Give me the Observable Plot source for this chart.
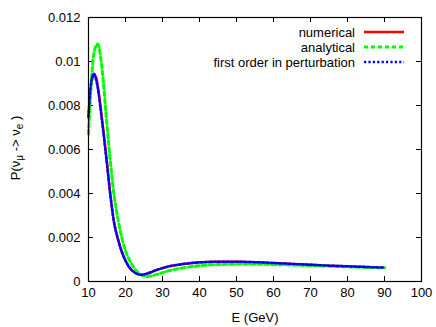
<!DOCTYPE html>
<html>
<head>
<meta charset="utf-8">
<script src="https://cdn.jsdelivr.net/npm/d3@7"></script>
<script src="https://cdn.jsdelivr.net/npm/@observablehq/plot@0.6"></script>
<style>
html,body{margin:0;padding:0;background:#fff;}
svg{font-family:"Liberation Sans",Arial,sans-serif;}
</style>
</head>
<body>
<div id="chart"></div>
<script>
const energy = [10,10.5,11,11.5,12,12.5,13,13.5,14,15,16,17,18,19,20,21,22,23,24,25,26,27,28,30,32,35,38,40,45,50,55,60,65,70,75,80,85,90];
const numerical = [0.00745,0.0086,0.0092,0.0094,0.0093,0.0089,0.0083,0.0076,0.0069,0.0054,0.0038,0.0026,0.0019,0.00135,0.00095,0.00065,0.00047,0.00036,0.00031,0.00032,0.00037,0.00043,0.0005,0.00061,0.0007,0.00078,0.00084,0.00087,0.0009,0.0009,0.00088,0.00084,0.0008,0.00076,0.00072,0.00069,0.00066,0.00063];
const analytical = [0.0067,0.0083,0.0096,0.0104,0.0107,0.0108,0.0105,0.0099,0.0091,0.0071,0.0053,0.0038,0.0028,0.0020,0.0014,0.0010,0.0007,0.00047,0.00033,0.00025,0.00023,0.00025,0.0003,0.0004,0.0005,0.0006,0.00068,0.00072,0.00077,0.00079,0.00079,0.00077,0.00075,0.00072,0.0007,0.00067,0.00064,0.00062];
const firstOrder = [0.0075,0.0087,0.0093,0.00945,0.0092,0.0088,0.0082,0.0075,0.0068,0.0053,0.0038,0.0026,0.0019,0.00135,0.00095,0.00065,0.00047,0.00036,0.00031,0.00032,0.00037,0.00043,0.0005,0.00061,0.0007,0.00078,0.00084,0.00087,0.0009,0.0009,0.00088,0.00084,0.0008,0.00076,0.00072,0.00069,0.00066,0.00063];
const xTicks = [10,20,30,40,50,60,70,80,90,100];
const yTicks = [0,0.002,0.004,0.006,0.008,0.01,0.012];
const seriesNames = ["numerical","analytical","first order in perturbation"];

const rows = (vals) => energy.map((e,i)=>({E:e,P:vals[i]}));
const greenDash = "4,3";
const blueDash = "2.2,2.2";

const plot = Plot.plot({
  width: 436,
  height: 327,
  marginLeft: 88,
  marginRight: 15,
  marginTop: 17,
  marginBottom: 46,
  style: {fontFamily: "Liberation Sans, Arial, sans-serif", fontSize: "13px", color: "#000", background: "#fff"},
  x: {domain: [10,100]},
  y: {domain: [0,0.012]},
  marks: [
    Plot.axisX({ticks: xTicks, tickSize: 0, tickPadding: 6, label: null, fontSize: 13}),
    Plot.axisY({ticks: yTicks, tickSize: 0, tickPadding: 8, label: null, fontSize: 13, tickFormat: d => d === 0 ? "0" : String(+d.toFixed(3))}),
    Plot.ruleX(xTicks, {x: d=>d, y1: 0, y2: 0.00023, stroke: "#000", strokeWidth: 1}),
    Plot.ruleX(xTicks, {x: d=>d, y1: 0.01177, y2: 0.012, stroke: "#000", strokeWidth: 1}),
    Plot.ruleY(yTicks, {y: d=>d, x1: 10, x2: 11.35, stroke: "#000", strokeWidth: 1}),
    Plot.ruleY(yTicks, {y: d=>d, x1: 98.65, x2: 100, stroke: "#000", strokeWidth: 1}),
    Plot.line(rows(numerical), {x: "E", y: "P", stroke: "#ff0000", strokeWidth: 2.5, curve: "catmull-rom"}),
    Plot.line(rows(analytical), {x: "E", y: "P", stroke: "#00ff00", strokeWidth: 3, strokeDasharray: greenDash, curve: "catmull-rom"}),
    Plot.line(rows(firstOrder), {x: "E", y: "P", stroke: "#0000ff", strokeWidth: 2.5, strokeDasharray: blueDash, curve: "catmull-rom"}),
    Plot.frame({stroke: "#000", strokeWidth: 1.2})
  ]
});
document.getElementById("chart").appendChild(plot);

const svg = d3.select(plot);
// x label
svg.append("text").attr("x", 255).attr("y", 322).attr("text-anchor","middle")
  .attr("font-size", 13).attr("fill","#000").text("E (GeV)");
// y label with subscripts
const yl = svg.append("text").attr("transform","translate(20,148) rotate(-90)")
  .attr("text-anchor","middle").attr("font-size",13).attr("fill","#000");
yl.append("tspan").text("P(ν");
yl.append("tspan").attr("font-size",10).attr("dy",3).text("μ");
yl.append("tspan").attr("dy",-3).text(" -> ν");
yl.append("tspan").attr("font-size",10).attr("dy",3).text("e");
yl.append("tspan").attr("dy",-3).text(" )");

// legend
const legendStyles = [
  {stroke:"#ff0000", width:2.5, dash:null},
  {stroke:"#00ff00", width:3, dash:greenDash},
  {stroke:"#0000ff", width:2.5, dash:blueDash}
];
seriesNames.forEach((name,i)=>{
  const y = 32 + i*15;
  svg.append("text").attr("x",355).attr("y",y+4.5).attr("text-anchor","end")
    .attr("font-size",13).attr("fill","#000").text(name);
  const l = svg.append("line").attr("x1",364).attr("x2",404).attr("y1",y).attr("y2",y)
    .attr("stroke",legendStyles[i].stroke).attr("stroke-width",legendStyles[i].width);
  if (legendStyles[i].dash) l.attr("stroke-dasharray",legendStyles[i].dash);
});
</script>
</body>
</html>
